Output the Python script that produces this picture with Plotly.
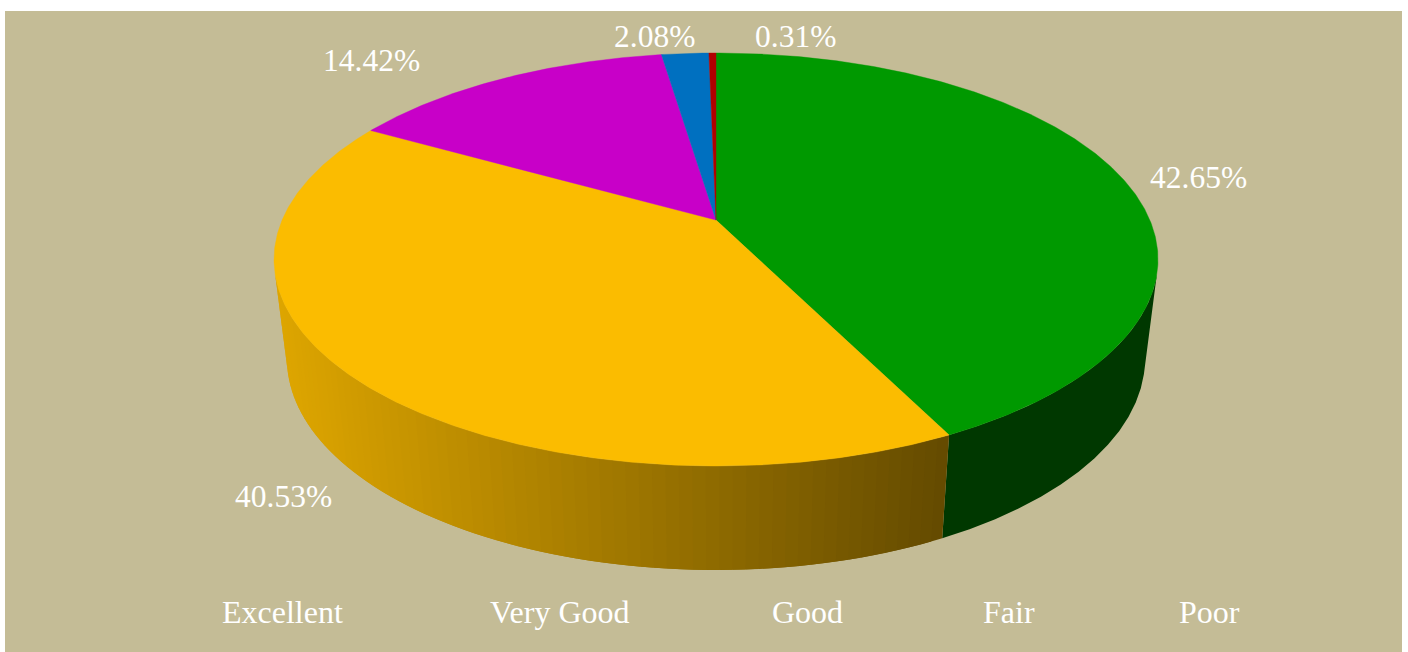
import numpy as np
import plotly.graph_objects as go

categories = ["Excellent", "Very Good", "Good", "Fair", "Poor"]
shares = [0.31, 2.08, 14.42, 40.53, 42.65]   # legend order
draw_order = [4, 3, 2, 1, 0]                 # clockwise from 12 o'clock
slice_colors = {0: "#B00000", 1: "#0070C0", 2: "#C800C8", 3: "#FBBC00", 4: "#009900"}
wall_colors = {4: ("#003800", "#003800"), 3: ("#DEA600", "#634A00")}

W, H = 1408, 652
BG = "#C4BC96"
FONT = "Liberation Serif"
CX, TOP = (716, 259.5), (442, 206.5)
BOT_C, BOT_R = (716, 359), (429, 211)
P = 0.191          # perspective shift of the disc centre
TANGENT = 0.065    # silhouette tangent in ellipse units


def project(theta, centre, radii, r=1.0):
    x, y = r * np.sin(theta), r * np.cos(theta)
    d = 1 + P * y
    u = x * np.sqrt(1 - P ** 2) / d
    v = (y + P) / d
    return centre[0] + radii[0] * u, centre[1] - radii[1] * v


fig = go.Figure()
total = sum(shares)
start = 0.0
limit_a = np.arccos((-TANGENT - P) / (1 - TANGENT * P))
limit_b = 2 * np.pi - limit_a
ranges = {}
for i in draw_order:
    end = start + shares[i] / total * 2 * np.pi
    ranges[i] = (start, end)
    start = end

# side walls
for i in draw_order:
    a, b = ranges[i]
    a2, b2 = max(a, limit_a), min(b, limit_b)
    if b2 <= a2 or i not in wall_colors:
        continue
    n = 70 if wall_colors[i][0] != wall_colors[i][1] else 1
    edges = np.linspace(a2, b2, n + 1)
    left = wall_colors[i][1]
    right = wall_colors[i][0]
    c0 = np.array([int(left[k:k + 2], 16) for k in (1, 3, 5)], float)
    c1 = np.array([int(right[k:k + 2], 16) for k in (1, 3, 5)], float)
    x_lo, _ = project(np.array([b2]), CX, TOP)
    x_hi, _ = project(np.array([a2]), CX, TOP)
    for j in range(n):
        stop = min(j + 2, n)
        t = np.linspace(edges[j], edges[stop], 14)
        xt, yt = project(t, CX, TOP)
        xb, yb = project(t, BOT_C, BOT_R)
        xm = (xt.mean() - x_hi[0]) / (x_lo[0] - x_hi[0])
        col = c0 + (c1 - c0) * xm
        fig.add_trace(go.Scatter(
            x=np.r_[xt, xb[::-1]], y=np.r_[yt, yb[::-1]],
            mode="lines", fill="toself", line=dict(width=0),
            fillcolor="rgb(%d,%d,%d)" % tuple(col),
            hoverinfo="skip", showlegend=False))

# top face
for i in draw_order:
    a, b = ranges[i]
    t = np.linspace(a, b, max(6, int((b - a) * 120)))
    x, y = project(t, CX, TOP)
    ax, ay = project(np.array([0.0]), CX, TOP, r=0.0)
    fig.add_trace(go.Scatter(
        x=np.r_[ax, x, ax], y=np.r_[ay, y, ay],
        mode="lines", fill="toself", line=dict(width=0.4, color=slice_colors[i]),
        fillcolor=slice_colors[i], name=categories[i],
        text="%s: %.2f%%" % (categories[i], shares[i]), hoverinfo="text",
        showlegend=False))

label_pos = {4: (1198, 177), 3: (283, 496), 2: (371, 60), 1: (654, 36), 0: (795, 36)}
legend_x = [282, 560, 807, 1009, 1209]
annotations = []
for i, (lx, ly) in label_pos.items():
    annotations.append(dict(x=lx, y=ly, xref="x", yref="y", showarrow=False,
                            text="%.2f%%" % shares[i],
                            font=dict(family=FONT, size=31.5, color="white")))
for name, lx in zip(categories, legend_x):
    annotations.append(dict(x=lx, y=612, xref="x", yref="y", showarrow=False,
                            text=name, font=dict(family=FONT, size=32, color="white")))

fig.update_layout(
    width=W, height=H, autosize=False,
    margin=dict(l=0, r=0, t=0, b=0),
    paper_bgcolor="white", plot_bgcolor="white",
    showlegend=False,
    xaxis=dict(range=[0, W], visible=False, fixedrange=True),
    yaxis=dict(range=[H, 0], visible=False, fixedrange=True),
    shapes=[dict(type="rect", xref="x", yref="y", x0=5, x1=1402, y0=11, y1=H,
                 fillcolor=BG, line=dict(width=0), layer="below")],
    annotations=annotations,
)
fig.write_html("out.html", config={"displayModeBar": False},
               post_script="document.body.style.margin='0';document.body.style.overflow='hidden';")
